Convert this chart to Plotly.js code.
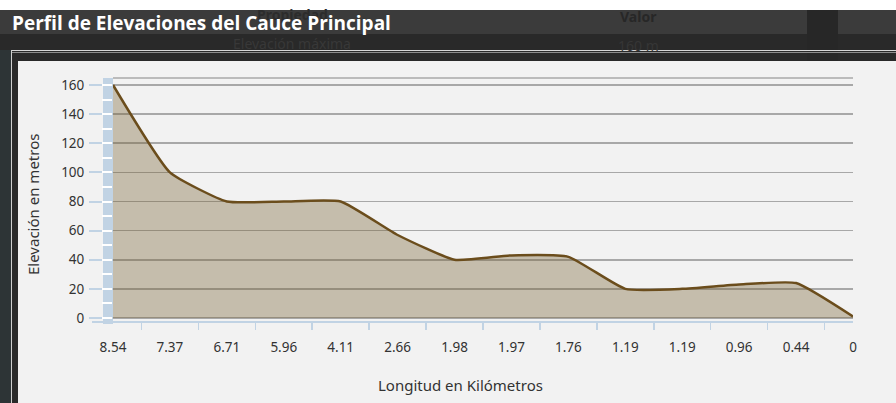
<!DOCTYPE html>
<html>
<head>
<meta charset="utf-8">
<script src="https://cdn.plot.ly/plotly-3.0.1.min.js"></script>
<style>
  html, body { margin:0; padding:0; background:#ffffff; }
  #wrap { position:relative; width:896px; height:403px; overflow:hidden; }
  .bg { position:absolute; }
  .ghost { position:absolute; font-family:'Noto Sans', sans-serif; font-size:14px; white-space:nowrap; line-height:16px; }
  #chart { position:absolute; left:0; top:0; width:896px; height:403px; }
</style>
</head>
<body>
<div id="wrap">
  <div class="bg" style="left:0;top:10px;width:896px;height:24px;background:#3b3b3b;"></div>
  <div class="bg" style="left:0;top:34px;width:896px;height:27px;background:#292929;"></div>
  <div class="bg" style="left:807px;top:10px;width:31px;height:51px;background:#272727;"></div>
  <div class="bg" style="left:0;top:50px;width:11px;height:353px;background:#2d3436;"></div>
  <div class="bg" style="left:12px;top:52px;width:6px;height:351px;background:#2a2a2a;"></div>
  <div class="bg" style="left:11px;top:50px;width:885px;height:1px;background:#d6d6d6;"></div>
  <div class="bg" style="left:11px;top:52px;width:885px;height:1px;background:#8c8c8c;"></div>
  <div class="bg" style="left:11px;top:50px;width:1px;height:353px;background:#cfcfcf;"></div>
  <div class="bg" style="left:18px;top:61px;width:878px;height:342px;background:#f2f2f2;"></div>
  <div class="ghost" style="left:257px;top:7px;color:#2c2c2c;font-weight:bold;">Propiedad</div>
  <div class="ghost" style="left:620px;top:9px;color:#272727;font-weight:bold;">Valor</div>
  <div class="ghost" style="left:233px;top:36px;color:#383838;">Elevación máxima</div>
  <div class="ghost" style="left:618px;top:38px;color:#363636;">160 m</div>
  <div id="chart"></div>
</div>
<script>
// ---- data ----
const distanceLabels = ['8.54','7.37','6.71','5.96','4.11','2.66','1.98','1.97','1.76','1.19','1.19','0.96','0.44','0'];
const elevations     = [160, 100, 80, 80, 80, 57, 40, 43, 42, 20, 20, 23, 24, 1];
const yTickValues    = [0, 20, 40, 60, 80, 100, 120, 140, 160];
const chartTitle = 'Perfil de Elevaciones del Cauce Principal';
const xTitle = 'Longitud en Kilómetros';
const yTitle = 'Elevación en metros';

const positions = distanceLabels.map((_, i) => i);

// ---- geometry helpers (pixels -> paper) ----
const L = 113, R = 853, T = 78, B = 321, W = 896, H = 403;
const pw = R - L, ph = B - T;
const px = v => (v - L) / pw;
const py = v => (B - v) / ph;

const blue = '#c1d3e4';
const yRange = [-2.06, 164.8];

const traces = [
  {
    x: positions, y: elevations, type: 'scatter', mode: 'lines',
    line: { color: '#6b4d1c', width: 2.5, shape: 'spline', smoothing: 0.45 },
    fill: 'tozeroy', fillcolor: 'rgba(119,97,51,0.37)',
    hoverinfo: 'x+y', showlegend: false
  },
  {
    x: positions, y: elevations, type: 'scatter', mode: 'lines', yaxis: 'y2',
    line: { width: 0, color: 'rgba(0,0,0,0)' }, hoverinfo: 'skip', showlegend: false
  }
];

const layout = {
  width: W, height: H,
  margin: { l: L, r: W - R, t: T, b: H - B },
  paper_bgcolor: 'rgba(0,0,0,0)', plot_bgcolor: 'rgba(0,0,0,0)',
  showlegend: false,
  title: {
    text: chartTitle, xref: 'container', yref: 'container',
    x: 12 / W, xanchor: 'left', y: 1 - 23 / H, yanchor: 'middle',
    font: { family: 'Open Sans, sans-serif', size: 19, color: '#ffffff', weight: 'bold' }
  },
  xaxis: {
    type: 'linear', range: [0, positions.length - 1],
    tickmode: 'array', tickvals: positions, ticktext: distanceLabels,
    ticks: '', showgrid: false, zeroline: false,
    showline: true, linecolor: blue, linewidth: 2,
    ticklabelstandoff: 13,
    tickfont: { family: 'Noto Sans, sans-serif', size: 13.5, color: '#333333' },
    minor: { tick0: 0.5, dtick: 1, ticks: 'outside', ticklen: 7, tickwidth: 1.5, tickcolor: blue, showgrid: false },
    fixedrange: true
  },
  yaxis: {
    range: yRange, tickmode: 'array', tickvals: yTickValues,
    ticks: 'outside', ticklen: 23, tickwidth: 2, tickcolor: blue,
    showgrid: true, gridcolor: '#a8a8a8', gridwidth: 1.5,
    zeroline: false, showline: false,
    ticklabelstandoff: 2,
    tickfont: { family: 'Noto Sans, sans-serif', size: 13.5, color: '#333333' },
    fixedrange: true
  },
  yaxis2: {
    overlaying: 'y', side: 'left', range: yRange,
    tick0: 0, dtick: 10, ticks: 'outside', ticklen: 10, tickwidth: 2, tickcolor: '#ffffff',
    showticklabels: false, showgrid: false, zeroline: false, showline: false,
    fixedrange: true
  },
  shapes: [
    { type: 'rect', xref: 'paper', yref: 'paper', x0: px(103), x1: px(113), y0: py(324), y1: 1,
      fillcolor: blue, line: { width: 0 }, layer: 'below' },
    { type: 'line', xref: 'paper', yref: 'paper', x0: px(92), x1: px(113), y0: py(322), y1: py(322),
      line: { color: blue, width: 2 } },
    { type: 'line', xref: 'paper', yref: 'paper', x0: 0, x1: 1, y0: 1, y1: 1,
      line: { color: '#a8a8a8', width: 1.5 }, layer: 'below' }
  ],
  annotations: [
    { text: xTitle, xref: 'paper', yref: 'paper', x: px(460), y: py(385),
      xanchor: 'center', yanchor: 'middle', showarrow: false,
      font: { family: 'Noto Sans, sans-serif', size: 15, color: '#333333' } },
    { text: yTitle, xref: 'paper', yref: 'paper', x: px(33), y: py(205), textangle: -90,
      xanchor: 'center', yanchor: 'middle', showarrow: false,
      font: { family: 'Noto Sans, sans-serif', size: 15, color: '#333333' } }
  ]
};

Plotly.newPlot('chart', traces, layout, { displayModeBar: false, staticPlot: true });
</script>
</body>
</html>
